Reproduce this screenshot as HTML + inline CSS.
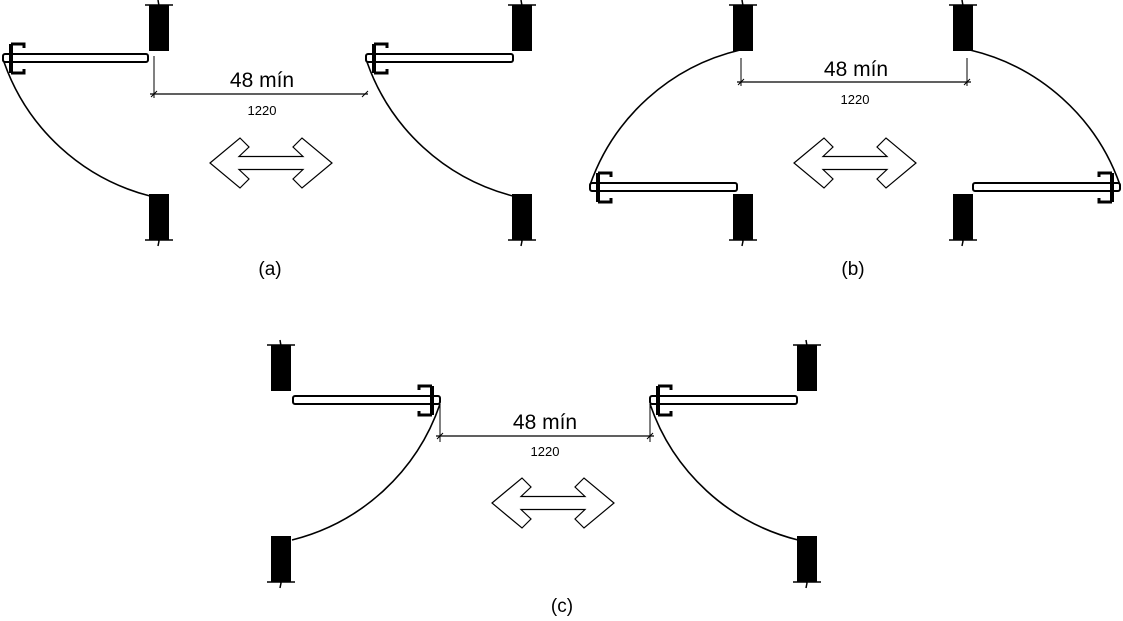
<!DOCTYPE html>
<html><head><style>
html,body{margin:0;padding:0;background:#fff;}
svg{display:block;}
text{font-family:"Liberation Sans",sans-serif;fill:#000;}
</style></head><body>
<svg width="1123" height="621" viewBox="0 0 1123 621" xmlns="http://www.w3.org/2000/svg">
<defs>
<g id="jambT">
  <rect x="0" y="5" width="20" height="46" fill="#000"/>
  <line x1="-4" y1="5" x2="24" y2="5" stroke="#000" stroke-width="1.5"/>
  <path d="M9 0 L10 6 L8 9 L11 14" stroke="#000" fill="none" stroke-width="1.5"/>
</g>
<g id="jambB">
  <rect x="0" y="0" width="20" height="46" fill="#000"/>
  <line x1="-4" y1="46" x2="24" y2="46" stroke="#000" stroke-width="1.5"/>
  <path d="M11 38 L8 43 L10 47 L9 52" stroke="#000" fill="none" stroke-width="1.5"/>
</g>
<g id="hinge" fill="none" stroke="#000">
  <rect x="7" y="-12" width="4" height="29" fill="#000" stroke="none"/>
  <path d="M9 -12 H22 V-8" stroke-width="3"/>
  <path d="M9 17 H22 V13" stroke-width="3"/>
</g>
<polygon id="arrow" points="-61,0 -31,-25 -22,-16 -32,-6.5 32,-6.5 22,-16 31,-25 61,0 31,25 22,16 32,6.5 -32,6.5 -22,16 -31,25" fill="#fff" stroke="#000" stroke-width="1.2"/>
<path id="tick" d="M-3 3 L3 -3" stroke="#000" stroke-width="1"/>
</defs>

<!-- (a) -->
<use href="#jambT" x="149" y="0"/>
<use href="#jambB" x="149" y="194"/>
<use href="#jambT" x="512" y="0"/>
<use href="#jambB" x="512" y="194"/>
<rect x="3" y="54" width="145" height="8" rx="2" fill="#fff" stroke="#000" stroke-width="2"/>
<use href="#hinge" x="2" y="56"/>
<rect x="366" y="54" width="147" height="8" rx="2" fill="#fff" stroke="#000" stroke-width="2"/>
<use href="#hinge" x="365" y="56"/>
<path d="M4 62 A210 210 0 0 0 150 196" fill="none" stroke="#000" stroke-width="1.6"/>
<path d="M367 62 A210 210 0 0 0 513 196" fill="none" stroke="#000" stroke-width="1.6"/>
<line x1="154" y1="56" x2="154" y2="98" stroke="#000" stroke-width="1"/>
<line x1="150" y1="94" x2="368" y2="94" stroke="#000" stroke-width="1.2"/>
<use href="#tick" x="154" y="94"/><use href="#tick" x="365" y="94"/>
<text x="262" y="87" font-size="21" text-anchor="middle">48 mín</text>
<text x="262" y="115" font-size="13" text-anchor="middle">1220</text>
<use href="#arrow" x="271" y="163"/>
<text x="270" y="275" font-size="19" text-anchor="middle">(a)</text>

<!-- (b) -->
<use href="#jambT" x="733" y="0"/>
<use href="#jambB" x="733" y="194"/>
<use href="#jambT" x="953" y="0"/>
<use href="#jambB" x="953" y="194"/>
<rect x="590" y="183" width="147" height="8" rx="2" fill="#fff" stroke="#000" stroke-width="2"/>
<use href="#hinge" x="589" y="185"/>
<rect x="973" y="183" width="147" height="8" rx="2" fill="#fff" stroke="#000" stroke-width="2"/>
<use href="#hinge" transform="translate(1121,185) scale(-1,1)"/>
<path d="M590 185 A210 210 0 0 1 740 50" fill="none" stroke="#000" stroke-width="1.6"/>
<path d="M970 50 A210 210 0 0 1 1120 185" fill="none" stroke="#000" stroke-width="1.6"/>
<line x1="741" y1="58" x2="741" y2="86" stroke="#000" stroke-width="1"/>
<line x1="967" y1="58" x2="967" y2="86" stroke="#000" stroke-width="1"/>
<line x1="737" y1="82" x2="971" y2="82" stroke="#000" stroke-width="1.2"/>
<use href="#tick" x="741" y="82"/><use href="#tick" x="967" y="82"/>
<text x="856" y="76" font-size="21" text-anchor="middle">48 mín</text>
<text x="855" y="104" font-size="13" text-anchor="middle">1220</text>
<use href="#arrow" x="855" y="163"/>
<text x="853" y="275" font-size="19" text-anchor="middle">(b)</text>

<!-- (c) -->
<use href="#jambT" x="271" y="340"/>
<use href="#jambB" x="271" y="536"/>
<use href="#jambT" x="797" y="340"/>
<use href="#jambB" x="797" y="536"/>
<rect x="293" y="396" width="147" height="8" rx="2" fill="#fff" stroke="#000" stroke-width="2"/>
<use href="#hinge" transform="translate(441,398) scale(-1,1)"/>
<rect x="650" y="396" width="147" height="8" rx="2" fill="#fff" stroke="#000" stroke-width="2"/>
<use href="#hinge" x="649" y="398"/>
<path d="M440 404 A210 210 0 0 1 292 540" fill="none" stroke="#000" stroke-width="1.6"/>
<path d="M650 404 A210 210 0 0 0 798 540" fill="none" stroke="#000" stroke-width="1.6"/>
<line x1="440" y1="405" x2="440" y2="442" stroke="#000" stroke-width="1"/>
<line x1="650" y1="405" x2="650" y2="442" stroke="#000" stroke-width="1"/>
<line x1="436" y1="436" x2="654" y2="436" stroke="#000" stroke-width="1.2"/>
<use href="#tick" x="440" y="436"/><use href="#tick" x="650" y="436"/>
<text x="545" y="429" font-size="21" text-anchor="middle">48 mín</text>
<text x="545" y="456" font-size="13" text-anchor="middle">1220</text>
<use href="#arrow" x="553" y="503"/>
<text x="562" y="612" font-size="19" text-anchor="middle">(c)</text>
</svg>
</body></html>
